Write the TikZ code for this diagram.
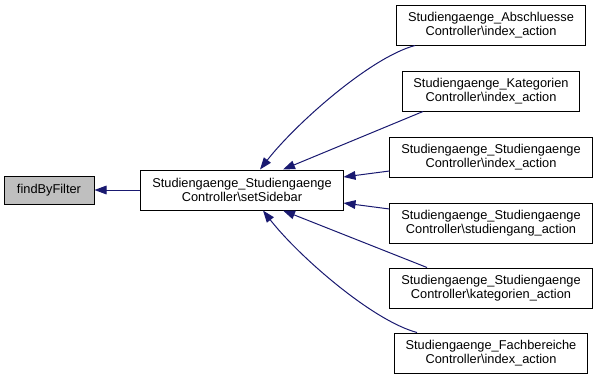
\documentclass[tikz,border=0pt]{standalone}
\usepackage{fontspec}
\setmainfont{Liberation Sans}
\usepackage{xcolor}
\usetikzlibrary{arrows.meta, calc}

\definecolor{navy}{HTML}{191970}
\definecolor{nodegray}{HTML}{BFBFBF}

\begin{document}
\begin{tikzpicture}[
      x=0.75pt, y=-0.75pt,
      every node/.style={rectangle, draw=black, line width=0.75pt, align=center,
        font=\fontsize{9.6}{10.5}\selectfont, inner xsep=8.5pt, minimum height=30pt},
      callarrow/.style={draw=navy, line width=0.75pt, -{Triangle[length=9pt, width=6.5pt]}}
    ]
      \useasboundingbox (0,0) rectangle (597,379);
      % left part
      \node[fill=nodegray, minimum width=67.5pt, minimum height=21pt] (find) at (49,190) {findByFilter};
      \node (sidebar) at (242,190) {Studiengaenge\_Studiengaenge\\Controller\textbackslash setSidebar};
      % callers
      \node (abschl) at (491,25) {Studiengaenge\_Abschluesse\\Controller\textbackslash index\_action};
      \node (kateg) at (491,91) {Studiengaenge\_Kategorien\\Controller\textbackslash index\_action};
      \node (stindex) at (491,157) {Studiengaenge\_Studiengaenge\\Controller\textbackslash index\_action};
      \node (stgang) at (491,223) {Studiengaenge\_Studiengaenge\\Controller\textbackslash studiengang\_action};
      \node (stkateg) at (491,288) {Studiengaenge\_Studiengaenge\\Controller\textbackslash kategorien\_action};
      \node (fachb) at (491,353) {Studiengaenge\_Fachbereiche\\Controller\textbackslash index\_action};
      % calls
      \draw[callarrow] (sidebar.west) -- (find.east);
      \draw[callarrow] ($(abschl.south)+(-76,0)$) .. controls +(-45,12) and +(35,-45) .. ($(sidebar.north)+(18,0)$);
      \draw[callarrow] ($(kateg.south)+(-68,0)$) -- ($(sidebar.north)+(41,0)$);
      \draw[callarrow] ($(stindex.west)+(0,14)$) -- ($(sidebar.east)+(0,-13)$);
      \draw[callarrow] ($(stgang.west)+(0,-14)$) -- ($(sidebar.east)+(0,13)$);
      \draw[callarrow] ($(stkateg.north)+(-64,0)$) -- ($(sidebar.south)+(41,0)$);
      \draw[callarrow] ($(fachb.north)+(-74,0)$) .. controls +(-45,-12) and +(35,45) .. ($(sidebar.south)+(21,0)$);
    \end{tikzpicture}
\end{document}
